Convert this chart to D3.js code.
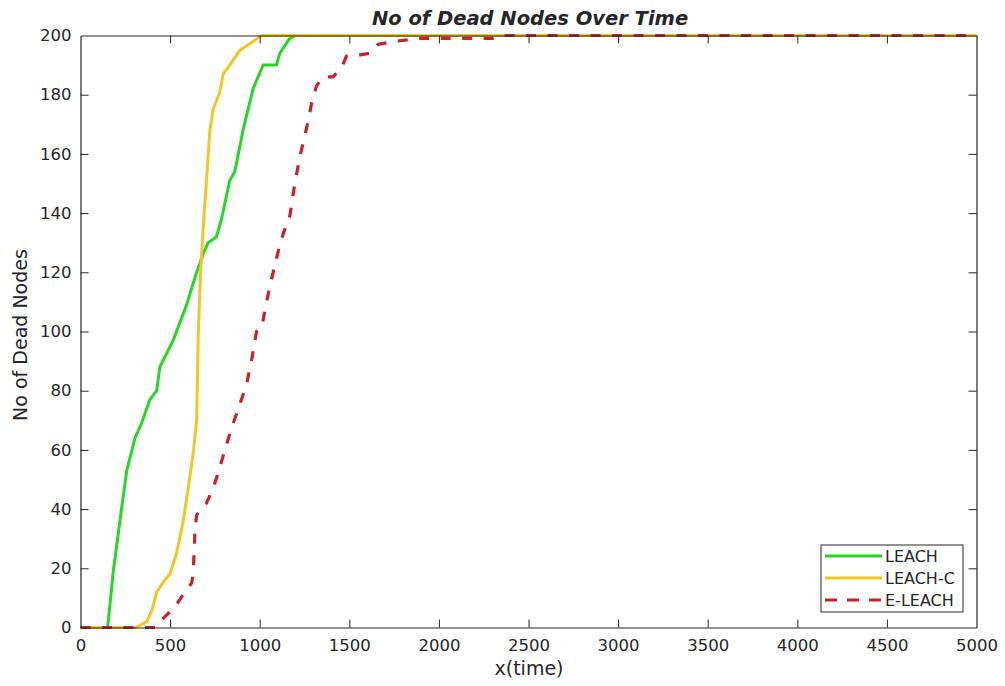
<!DOCTYPE html>
<html>
<head>
<meta charset="utf-8">
<script src="https://cdn.jsdelivr.net/npm/d3@7"></script>
<style>
  html, body { margin: 0; padding: 0; background: #ffffff; }
  svg { display: block; }
  text { font-family: "DejaVu Sans", sans-serif; fill: #262626; }
</style>
</head>
<body>
<svg id="chart" width="1005" height="686"></svg>
<script>
// ---- Data ----
const seriesNames = ["LEACH", "LEACH-C", "E-LEACH"];
const leachTime  = [0, 150, 155, 183, 220, 258, 304, 341, 387, 425, 443, 517, 592, 648, 690, 712, 759, 787, 833, 861, 907, 963, 1019, 1094, 1112, 1168, 1200, 5000];
const leachDead  = [0, 0,   2,   19,  36,  53,  64,  69,  77,  80,  88,  97,  109, 120, 127, 130, 132, 138, 151, 154, 168, 182, 190,  190,  194,  199,  200,  200];
const leachCTime = [0, 310, 370, 400, 425, 470, 499, 536, 573, 601, 629, 648, 657, 670, 685, 703, 722, 740, 778, 796, 833, 889, 963, 1010, 5000];
const leachCDead = [0, 0,   2,   6,   12,  16,  18,  25,  36,  47,  59,  70,  99,  120, 135, 151, 168, 175, 181, 187, 190, 195, 198, 200,  200];
const eLeachTime = [0, 420, 460, 527, 583, 620, 629, 638, 648, 703, 740, 778, 805, 852, 898, 926, 954, 982, 1010, 1038, 1075, 1103, 1131, 1168, 1196, 1224, 1251, 1270, 1289, 1317, 1353, 1409, 1456, 1484, 1520, 1614, 1660, 1750, 1900, 2300, 2340, 5000];
const eLeachDead = [0, 0,   3,   7,   12,  15,  18,  32,  38,  42,  47,  54,  60,  69,  77,  82,  90,  100, 101,  110,  120,  127,  133,  139,  150,  159,  166,  171,  177,  183,  186,  186,  189,  193,  193,  194,  197,  198,  199,  199,  200,  200];
const xTicks = [0, 500, 1000, 1500, 2000, 2500, 3000, 3500, 4000, 4500, 5000];
const yTicks = [0, 20, 40, 60, 80, 100, 120, 140, 160, 180, 200];
const titleText = "No of Dead Nodes Over Time";
const xLabel = "x(time)";
const yLabel = "No of Dead Nodes";

// ---- Layout ----
const svg = d3.select("#chart");
const L = 80.5, R = 976.5, T = 35.5, B = 627.5;
const x = d3.scaleLinear().domain([0, 5000]).range([L, R]);
const y = d3.scaleLinear().domain([0, 200]).range([B, T]);
const axisColor = "#262626";

const series = [
  { name: seriesNames[0], t: leachTime,  v: leachDead,  color: "#26d826", width: 3,   dash: null },
  { name: seriesNames[1], t: leachCTime, v: leachCDead, color: "#f2c623", width: 3,   dash: null },
  { name: seriesNames[2], t: eLeachTime, v: eLeachDead, color: "#c8222c", width: 3.2, dash: "10,11.5" }
];

// Clip
svg.append("defs").append("clipPath").attr("id", "plotclip")
  .append("rect").attr("x", L - 2).attr("y", T - 3).attr("width", R - L + 4).attr("height", B - T + 6);

// Lines
const line = d3.line().x(d => x(d[0])).y(d => y(d[1]));
const g = svg.append("g").attr("clip-path", "url(#plotclip)");
series.forEach(s => {
  const pts = s.t.map((t, i) => [t, s.v[i]]);
  g.append("path")
    .datum(pts)
    .attr("d", line)
    .attr("fill", "none")
    .attr("stroke", s.color)
    .attr("stroke-width", s.width)
    .attr("stroke-linejoin", "round")
    .attr("stroke-dasharray", s.dash);
});

// Axes (inner ticks, box)
const tickLen = 8;
const axB = svg.append("g").attr("transform", `translate(0,${B})`)
  .call(d3.axisBottom(x).tickValues(xTicks).tickSizeInner(-tickLen).tickSizeOuter(0).tickPadding(12).tickFormat(d3.format("d")));
const axT = svg.append("g").attr("transform", `translate(0,${T})`)
  .call(d3.axisTop(x).tickValues(xTicks).tickSizeInner(-tickLen).tickSizeOuter(0).tickFormat(""));
const axL = svg.append("g").attr("transform", `translate(${L},0)`)
  .call(d3.axisLeft(y).tickValues(yTicks).tickSizeInner(-tickLen).tickSizeOuter(0).tickPadding(9).tickFormat(d3.format("d")));
const axR = svg.append("g").attr("transform", `translate(${R},0)`)
  .call(d3.axisRight(y).tickValues(yTicks).tickSizeInner(-tickLen).tickSizeOuter(0).tickFormat(""));
[axB, axT, axL, axR].forEach(a => {
  a.select(".domain").attr("stroke", axisColor).attr("stroke-width", 1.2);
  a.selectAll(".tick line").attr("stroke", axisColor).attr("stroke-width", 1);
  a.selectAll(".tick text").attr("fill", axisColor).style("font-family", "DejaVu Sans, sans-serif").style("font-size", "16.5px");
});
axB.selectAll(".tick line").filter(d => d === 0 || d === 5000).remove();
axT.selectAll(".tick line").filter(d => d === 0 || d === 5000).remove();
axL.selectAll(".tick line").filter(d => d === 0 || d === 200).remove();
axR.selectAll(".tick line").filter(d => d === 0 || d === 200).remove();

// Title & labels
svg.append("text").attr("x", 530).attr("y", 25).attr("text-anchor", "middle")
  .style("font-family", "DejaVu Sans, sans-serif").style("font-weight", "bold").style("font-style", "italic")
  .style("font-size", "19.5px").attr("fill", "#000").text(titleText);
svg.append("text").attr("x", 529).attr("y", 675).attr("text-anchor", "middle")
  .style("font-size", "19px").text(xLabel);
svg.append("text").attr("transform", `translate(27,335) rotate(-90)`).attr("text-anchor", "middle")
  .style("font-size", "19px").text(yLabel);

// Legend
const legX = 821, legY = 545, legW = 142, legH = 67, rowH = 22;
const leg = svg.append("g");
leg.append("rect").attr("x", legX).attr("y", legY).attr("width", legW).attr("height", legH)
  .attr("fill", "#fff").attr("stroke", axisColor).attr("stroke-width", 1);
series.forEach((s, i) => {
  const cy = legY + 11 + i * rowH;
  leg.append("line").attr("x1", legX + 4).attr("x2", legX + 61).attr("y1", cy).attr("y2", cy)
    .attr("stroke", s.color).attr("stroke-width", s.width).attr("stroke-dasharray", s.dash ? "12,10" : null);
  leg.append("text").attr("x", legX + 64).attr("y", cy).attr("dy", "0.35em")
    .style("font-size", "16px").text(s.name);
});
</script>
</body>
</html>
